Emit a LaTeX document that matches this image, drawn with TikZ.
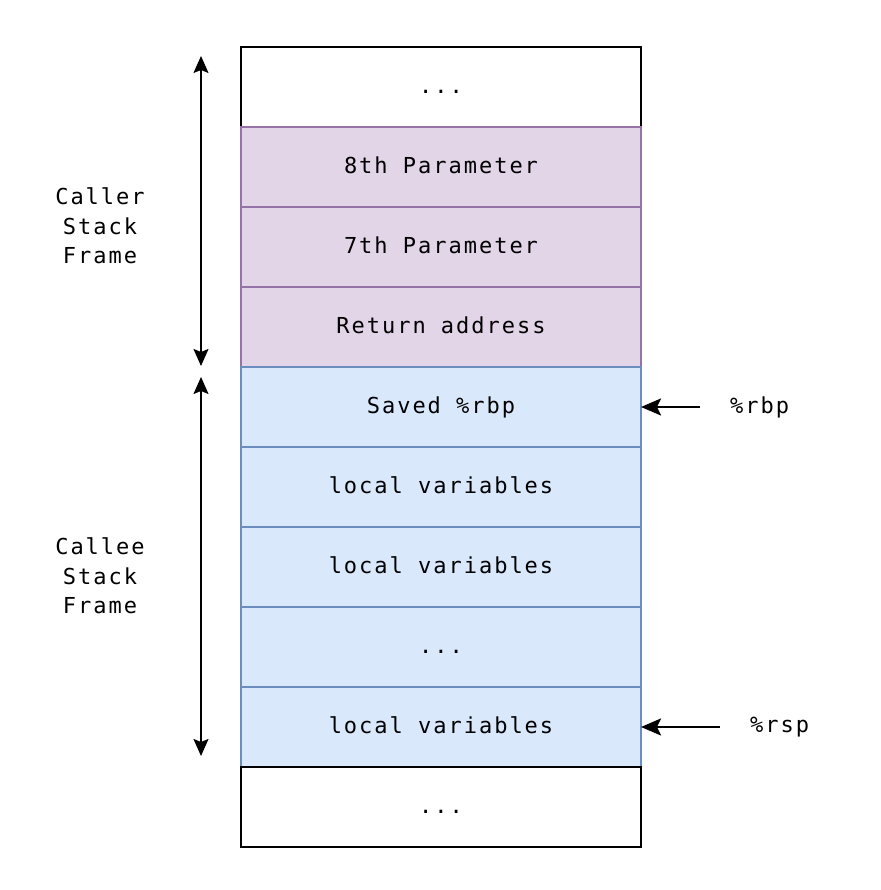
\documentclass[tikz,border=0pt]{standalone}
\usepackage{fontspec}
\usepackage{xcolor}
\usepackage{tikz}
\usetikzlibrary{positioning,arrows.meta}
\setmonofont[LetterSpace=9]{DejaVu Sans Mono}
\definecolor{plainbd}{HTML}{000000}
\definecolor{callerbg}{HTML}{E1D5E7}
\definecolor{callerbd}{HTML}{9673A6}
\definecolor{calleebg}{HTML}{DAE8FC}
\definecolor{calleebd}{HTML}{6C8EBF}
\tikzset{
  cell/.style={minimum width=400pt, minimum height=80pt, inner sep=0pt, outer sep=0pt,
    text height=18pt, text depth=4pt, font=\ttfamily\fontsize{22}{26}\selectfont},
  plaincell/.style={cell, draw=plainbd, line width=1.6pt, fill=white},
  callercell/.style={cell, draw=callerbd, line width=1.3pt, fill=callerbg},
  calleecell/.style={cell, draw=calleebd, line width=1.3pt, fill=calleebg},
  span/.style={line width=1.6pt, {Stealth[length=17pt,width=15pt,inset=3pt]}-{Stealth[length=17pt,width=15pt,inset=3pt]}},
  ptr/.style={line width=2.2pt, -{Stealth[length=20pt,width=17pt,inset=4pt]}},
  lab/.style={font=\ttfamily\fontsize{22}{29.5}\selectfont, align=center, inner sep=4pt}
}
\begin{document}
\begin{tikzpicture}
  \useasboundingbox (0,0) rectangle (880pt,890pt);

  % the stack, top to bottom
  \node[plaincell] (top) at (441pt,803pt) {...};
  \node[callercell, below=0pt of top] (par8) {8th Parameter};
  \node[callercell, below=0pt of par8] (par7) {7th Parameter};
  \node[callercell, below=0pt of par7] (ret) {Return address};
  \node[calleecell, below=0pt of ret] (rbpcell) {Saved \%rbp};
  \node[calleecell, below=0pt of rbpcell] (loc1) {local variables};
  \node[calleecell, below=0pt of loc1] (loc2) {local variables};
  \node[calleecell, below=0pt of loc2] (locdots) {...};
  \node[calleecell, below=0pt of locdots] (loc3) {local variables};
  \node[plaincell, below=0pt of loc3] (bottom) {...};

  % frame extents
  \coordinate (callertop) at (201pt,834pt);
  \coordinate (callerbot) at (201pt,524pt);
  \coordinate (calleetop) at (201pt,513pt);
  \coordinate (calleebot) at (201pt,134pt);
  \draw[span] (callerbot) -- (callertop);
  \draw[span] (calleebot) -- (calleetop);
  \node[lab] (caller) at (100pt,664pt) {Caller\\Stack\\Frame};
  \node[lab] (callee) at (100pt,314pt) {Callee\\Stack\\Frame};

  % registers
  \node[lab, anchor=west] (rbp) at (726pt,483pt) {\%rbp};
  \node[lab, anchor=west] (rsp) at (746pt,163pt) {\%rsp};
  \draw[ptr] ([xshift=-26pt]rbp.west) -- (rbpcell.east);
  \draw[ptr] ([xshift=-26pt]rsp.west) -- (loc3.east);
\end{tikzpicture}
\end{document}
